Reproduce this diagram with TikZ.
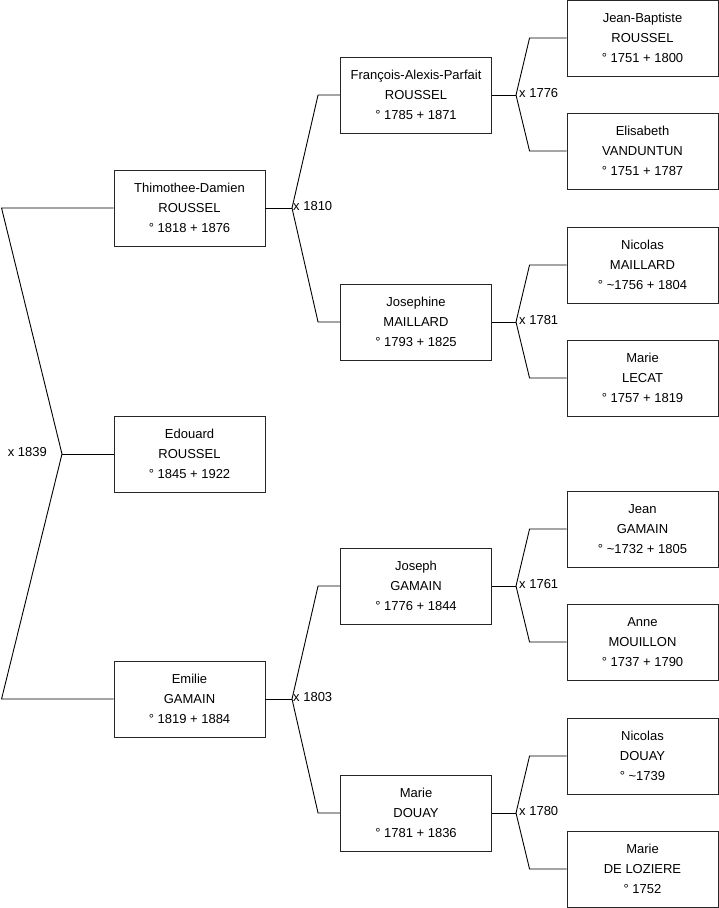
\documentclass[tikz,border=0pt]{standalone}
\usepackage{fontspec}
\setmainfont{Liberation Sans}
\usetikzlibrary{positioning}

\begin{document}
\begin{tikzpicture}[
    x=1pt, y=-1pt,
    every node/.style={font=\fontsize{13}{20}\selectfont, align=center},
    person/.style={
        draw=black!85,
        line width=0.9pt,
        minimum width=151pt,
        minimum height=76pt,
        inner sep=0pt,
        text centered
    },
    link/.style={
        line width=0.9pt,
        black
    },
    wedding/.style={
        inner sep=1pt,
        anchor=west,
        yshift=2pt
    }
]
\useasboundingbox (0,0) rectangle (719,908);

% generation 1
\node[person] (thimothee) at (189.5,208) {Thimothee-Damien\\ROUSSEL\\° 1818 + 1876};
\node[person] (edouard) at (189.5,454) {Edouard\\ROUSSEL\\° 1845 + 1922};
\node[person] (emilie) at (189.5,699) {Emilie\\GAMAIN\\° 1819 + 1884};

% generation 2
\node[person] (francois) at (416,95) {François-Alexis-Parfait\\ROUSSEL\\° 1785 + 1871};
\node[person] (josephine) at (416,322) {Josephine\\MAILLARD\\° 1793 + 1825};
\node[person] (joseph) at (416,586) {Joseph\\GAMAIN\\° 1776 + 1844};
\node[person] (marieD) at (416,813) {Marie\\DOUAY\\° 1781 + 1836};

% generation 3
\node[person] (jeanbaptiste) at (642.5,38) {Jean-Baptiste\\ROUSSEL\\° 1751 + 1800};
\node[person] (elisabeth) at (642.5,151) {Elisabeth\\VANDUNTUN\\° 1751 + 1787};
\node[person] (nicolasM) at (642.5,265) {Nicolas\\MAILLARD\\° \textasciitilde1756 + 1804};
\node[person] (marieL) at (642.5,378) {Marie\\LECAT\\° 1757 + 1819};
\node[person] (jeanG) at (642.5,529) {Jean\\GAMAIN\\° \textasciitilde1732 + 1805};
\node[person] (anne) at (642.5,642) {Anne\\MOUILLON\\° 1737 + 1790};
\node[person] (nicolasD) at (642.5,756) {Nicolas\\DOUAY\\° \textasciitilde1739};
\node[person] (marieDL) at (642.5,869) {Marie\\DE LOZIERE\\° 1752};

% marriage points
\coordinate (m1839) at (62,454);
\coordinate (m1810) at (292,208);
\coordinate (m1803) at (292,699);
\coordinate (m1776) at (516,95);
\coordinate (m1781) at (516,322);
\coordinate (m1761) at (516,586);
\coordinate (m1780) at (516,813);

\node[anchor=east, inner sep=0pt, yshift=2pt] (x1839) at ([xshift=-15pt]m1839) {x 1839};
\node[wedding] (x1810) at (m1810) {x 1810};
\node[wedding] (x1803) at (m1803) {x 1803};
\node[wedding] (x1776) at ([xshift=2pt]m1776) {x 1776};
\node[wedding] (x1781) at ([xshift=2pt]m1781) {x 1781};
\node[wedding] (x1761) at ([xshift=2pt]m1761) {x 1761};
\node[wedding] (x1780) at ([xshift=2pt]m1780) {x 1780};

% parents of Edouard
\draw[link] (edouard.west) -- (m1839);
\draw[link] (m1839) -- ([xshift=-112pt]thimothee.west) -- (thimothee.west);
\draw[link] (m1839) -- ([xshift=-112pt]emilie.west) -- (emilie.west);

% parents of generation 1
\draw[link] (thimothee.east) -- (m1810);
\draw[link] (m1810) -- ([xshift=-22pt]francois.west) -- (francois.west);
\draw[link] (m1810) -- ([xshift=-22pt]josephine.west) -- (josephine.west);
\draw[link] (emilie.east) -- (m1803);
\draw[link] (m1803) -- ([xshift=-22pt]joseph.west) -- (joseph.west);
\draw[link] (m1803) -- ([xshift=-22pt]marieD.west) -- (marieD.west);

% parents of generation 2
\draw[link] (francois.east) -- (m1776);
\draw[link] (m1776) -- ([xshift=-37pt]jeanbaptiste.west) -- (jeanbaptiste.west);
\draw[link] (m1776) -- ([xshift=-37pt]elisabeth.west) -- (elisabeth.west);
\draw[link] (josephine.east) -- (m1781);
\draw[link] (m1781) -- ([xshift=-37pt]nicolasM.west) -- (nicolasM.west);
\draw[link] (m1781) -- ([xshift=-37pt]marieL.west) -- (marieL.west);
\draw[link] (joseph.east) -- (m1761);
\draw[link] (m1761) -- ([xshift=-37pt]jeanG.west) -- (jeanG.west);
\draw[link] (m1761) -- ([xshift=-37pt]anne.west) -- (anne.west);
\draw[link] (marieD.east) -- (m1780);
\draw[link] (m1780) -- ([xshift=-37pt]nicolasD.west) -- (nicolasD.west);
\draw[link] (m1780) -- ([xshift=-37pt]marieDL.west) -- (marieDL.west);

\end{tikzpicture}
\end{document}
